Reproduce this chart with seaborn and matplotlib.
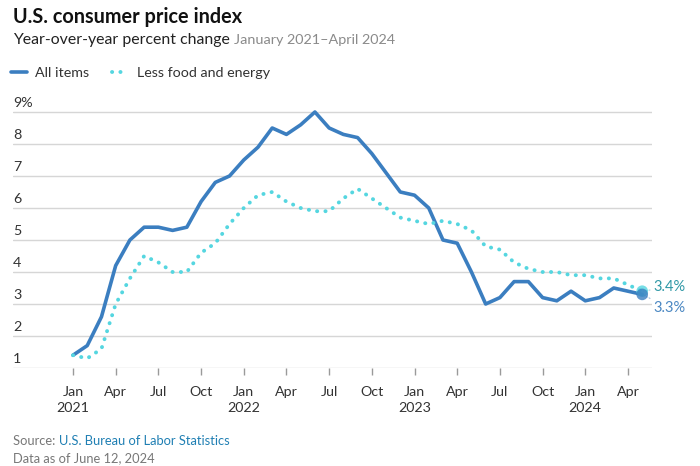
import numpy as np
import pandas as pd
import matplotlib
matplotlib.use("Agg")
import matplotlib.pyplot as plt
import matplotlib.transforms as mtransforms
import seaborn as sns

# ---- data (monthly, Jan 2021 – May 2024) ----
month_index = list(range(41))
all_items = [1.4, 1.7, 2.6, 4.2, 5.0, 5.4, 5.4, 5.3, 5.4, 6.2, 6.8, 7.0,
             7.5, 7.9, 8.5, 8.3, 8.6, 9.0, 8.5, 8.3, 8.2, 7.7, 7.1, 6.5,
             6.4, 6.0, 5.0, 4.9, 4.0, 3.0, 3.2, 3.7, 3.7, 3.2, 3.1, 3.4,
             3.1, 3.2, 3.5, 3.4, 3.3]
core = [1.4, 1.3, 1.6, 3.0, 3.8, 4.5, 4.3, 4.0, 4.0, 4.6, 4.9, 5.5,
        6.0, 6.4, 6.5, 6.2, 6.0, 5.9, 5.9, 6.3, 6.6, 6.3, 6.0, 5.7,
        5.6, 5.5, 5.6, 5.5, 5.3, 4.8, 4.7, 4.3, 4.1, 4.0, 4.0, 3.9,
        3.9, 3.8, 3.8, 3.6, 3.4]
tick_pos = list(range(0, 40, 3))
tick_labels = ["Jan\n2021", "Apr", "Jul", "Oct", "Jan\n2022", "Apr", "Jul", "Oct",
               "Jan\n2023", "Apr", "Jul", "Oct", "Jan\n2024", "Apr"]
y_ticks = [1, 2, 3, 4, 5, 6, 7, 8, 9]
y_labels = ["1", "2", "3", "4", "5", "6", "7", "8", "9%"]
series_names = ["All items", "Less food and energy"]

BLUE = "#3b7ec0"
TEAL = "#55d6e0"

df = pd.DataFrame({"m": month_index, "all": all_items, "core": core})

sns.set_theme(style="white")
plt.rcParams["font.family"] = ["Lato", "DejaVu Sans"]

W, H = 700, 466
fig = plt.figure(figsize=(7, 4.66), dpi=100)
ymin, ymax = 1, 9.3
px_per_unit = 32
ax_bottom_px = 368
ax_top_px = ax_bottom_px - (ymax - ymin) * px_per_unit
ax = fig.add_axes([13 / W, (H - ax_bottom_px) / H, (652 - 13) / W,
                   (ax_bottom_px - ax_top_px) / H])

ppm = 14.23
ax.set_xlim(-60 / ppm, (652 - 73) / ppm)
ax.set_ylim(ymin, ymax)

sns.lineplot(data=df, x="m", y="all", ax=ax, color=BLUE, lw=2.6,
             solid_capstyle="round", solid_joinstyle="round", label=series_names[0])
sns.lineplot(data=df, x="m", y="core", ax=ax, color=TEAL, lw=2.8,
             linestyle=(0, (0.05, 2.1)), dash_capstyle="round", label=series_names[1])

last = df.tail(1)
sns.scatterplot(data=last, x="m", y="core", ax=ax, color=TEAL, s=70, alpha=0.8,
                edgecolor="none", legend=False, zorder=5)
sns.scatterplot(data=last, x="m", y="all", ax=ax, color=BLUE, s=70, alpha=0.8,
                edgecolor="none", legend=False, zorder=5)

ax.annotate("3.4%", xy=(last["m"].iloc[0], core[-1]), xytext=(8, 3),
            textcoords="offset points", ha="left", va="center", fontsize=10.5,
            color="#2f98a6",
            arrowprops=dict(arrowstyle="-", color="#9fdbe2", lw=0.8, ls=":",
                            shrinkA=0, shrinkB=0))
ax.annotate("3.3%", xy=(last["m"].iloc[0], all_items[-1]), xytext=(8, -10),
            textcoords="offset points", ha="left", va="center", fontsize=10.5,
            color="#4a87c2",
            arrowprops=dict(arrowstyle="-", color="#9fbfe0", lw=0.8, ls=":",
                            shrinkA=0, shrinkB=0))

# grid / axes styling
ax.set_yticks(y_ticks)
ax.set_yticklabels([])
ax.tick_params(axis="y", length=0)
ax.grid(axis="y", color="#d6d6d6", lw=1)
ax.grid(axis="x", visible=False)
for s in ax.spines.values():
    s.set_visible(False)
ax.set_xticks(tick_pos)
ax.set_xticklabels(tick_labels, fontsize=10.3, color="#333333", linespacing=1.35)
ax.tick_params(axis="x", bottom=True, length=5, width=1, color="#9a9a9a",
               direction="out", pad=8)
ax.set_xlabel("")
ax.set_ylabel("")

trans = mtransforms.blended_transform_factory(ax.transAxes, ax.transData)
for v, lab in zip(y_ticks, y_labels):
    ax.annotate(lab, xy=(0, v), xycoords=trans, xytext=(0, 2.5),
                textcoords="offset points", ha="left", va="bottom",
                fontsize=10.3, color="#333333")

# legend
hs, ls = ax.get_legend_handles_labels()
leg = ax.legend(hs, ls, loc="center left", bbox_to_anchor=(11 / W, 1 - 73 / H),
                bbox_transform=fig.transFigure, ncol=2, frameon=False,
                fontsize=10.3, handlelength=1.1, handletextpad=0.6,
                columnspacing=1.6, borderpad=0, borderaxespad=0)
for t in leg.get_texts():
    t.set_color("#333333")

# texts
fig.text(13 / W, 1 - 17 / H, "U.S. consumer price index", fontsize=14.3,
         fontweight="bold", color="#111111", va="center", ha="left")
renderer = fig.canvas.get_renderer()
t1 = fig.text(13 / W, 1 - 40 / H, "Year-over-year percent change ", fontsize=11.4,
              color="#222222", va="center", ha="left")
bb = t1.get_window_extent(renderer=renderer)
fig.text(bb.x1 / W, 1 - 40 / H, "January 2021–April 2024", fontsize=10.4,
         color="#8a8a8a", va="center", ha="left")

t2 = fig.text(13 / W, 1 - 441 / H, "Source: ", fontsize=9.3, color="#777777",
              va="center", ha="left")
bb2 = t2.get_window_extent(renderer=renderer)
fig.text(bb2.x1 / W, 1 - 441 / H, "U.S. Bureau of Labor Statistics", fontsize=9.3,
         color="#1f7fb3", va="center", ha="left")
fig.text(13 / W, 1 - 458 / H, "Data as of June 12, 2024", fontsize=9.3,
         color="#777777", va="center", ha="left")

fig.savefig("out.png", dpi=100)
